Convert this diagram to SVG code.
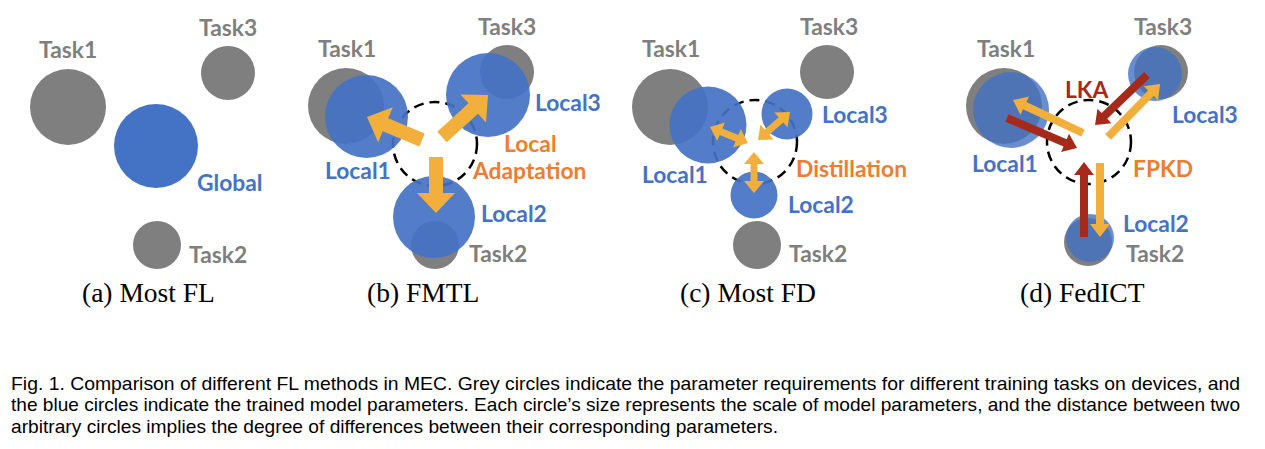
<svg xmlns="http://www.w3.org/2000/svg" width="1265" height="449" viewBox="0 0 1265 449">
<style>
.grey{fill:#7f7f7f}
.blue{fill:#4472c4;opacity:0.92}
.blued{fill:#4472c4;opacity:0.8}
.dash{fill:none;stroke:#000;stroke-width:2.5;stroke-dasharray:10 6}
.lbl{font-family:Lato,"Open Sans",sans-serif;font-weight:700;font-size:22.8px}
.tg{fill:#7f7f7f}
.tb{fill:#4472c4}
.to{fill:#ed7d31}
.tr{fill:#a52a1a}
.cap{font-family:"Liberation Serif","Times New Roman",serif;font-size:27.5px;fill:#000}
.fig{font-family:"Liberation Sans",Arial,sans-serif;font-size:18.5px;fill:#000}
.ya{fill:#f2af3b}
.ra{fill:#a52a1a}
</style>
<rect width="1265" height="449" fill="#fff"/>

<!-- Panel a -->
<g id="a-task1"><circle class="grey" cx="68" cy="107" r="38"/><text class="lbl tg" x="39" y="58">Task1</text></g>
<g id="a-task3"><circle class="grey" cx="228" cy="73" r="27"/><text class="lbl tg" x="199" y="36">Task3</text></g>
<g id="a-task2"><circle class="grey" cx="157" cy="245" r="24"/><text class="lbl tg" x="189" y="263">Task2</text></g>
<g id="a-global"><circle fill="#4472c4" cx="156" cy="146" r="42"/><text class="lbl tb" x="197" y="191">Global</text></g>
<text class="cap" x="82" y="302">(a) Most FL</text>

<!-- Panel b -->
<g id="b-task1"><circle class="grey" cx="346" cy="106" r="38"/><text class="lbl tg" x="318" y="57">Task1</text></g>
<g id="b-task3"><circle class="grey" cx="507" cy="72" r="27"/><text class="lbl tg" x="478" y="35">Task3</text></g>
<g id="b-task2"><circle class="grey" cx="435" cy="245" r="24"/><text class="lbl tg" x="469" y="262">Task2</text></g>
<g id="b-center"><circle class="dash" cx="435" cy="144" r="42"/><text class="lbl to" x="504" y="152">Local</text><text class="lbl to" x="473" y="179">Adaptation</text></g>
<g id="b-local1"><circle class="blue" cx="366.5" cy="116.5" r="41.5"/><text class="lbl tb" x="325" y="179">Local1</text></g>
<g id="b-local3"><circle class="blue" cx="488" cy="95" r="42"/><text class="lbl tb" x="535" y="111">Local3</text></g>
<g id="b-local2"><circle class="blue" cx="434" cy="217" r="41"/><text class="lbl tb" x="481" y="222">Local2</text></g>
<text class="cap" x="367" y="302">(b) FMTL</text>

<!-- Panel c -->
<g id="c-task1"><circle class="grey" cx="670" cy="107" r="38"/><text class="lbl tg" x="642" y="57">Task1</text></g>
<g id="c-task3"><circle class="grey" cx="827" cy="72" r="27"/><text class="lbl tg" x="800" y="35">Task3</text></g>
<g id="c-task2"><circle class="grey" cx="757" cy="245" r="24"/><text class="lbl tg" x="789" y="262">Task2</text></g>
<g id="c-center"><circle class="dash" cx="755" cy="142" r="42"/><text class="lbl to" x="796" y="177">Distillation</text></g>
<g id="c-local1"><circle class="blue" cx="708" cy="125" r="38.5"/><text class="lbl tb" x="642" y="183">Local1</text></g>
<g id="c-local3"><circle class="blue" cx="787" cy="114" r="25.5"/><text class="lbl tb" x="822" y="123">Local3</text></g>
<g id="c-local2"><circle class="blue" cx="754" cy="195" r="23.5"/><text class="lbl tb" x="788" y="213">Local2</text></g>
<text class="cap" x="680" y="302">(c) Most FD</text>

<!-- Panel d -->
<g id="d-task1"><circle class="grey" cx="1004" cy="106" r="38"/><text class="lbl tg" x="977" y="57">Task1</text></g>
<g id="d-task3"><circle class="grey" cx="1161" cy="72" r="27"/><text class="lbl tg" x="1134" y="35">Task3</text></g>
<g id="d-task2"><circle class="grey" cx="1088" cy="242" r="24"/><text class="lbl tg" x="1126" y="262">Task2</text></g>
<g id="d-center"><circle class="dash" cx="1089" cy="142" r="42"/><text class="lbl tr" x="1065" y="98">LKA</text><text class="lbl to" x="1133" y="177">FPKD</text></g>
<g id="d-local1"><circle class="blued" cx="1011" cy="110" r="38"/><text class="lbl tb" x="972" y="172">Local1</text></g>
<g id="d-local3"><circle class="blued" cx="1155" cy="74" r="27"/><text class="lbl tb" x="1172" y="123">Local3</text></g>
<g id="d-local2"><circle class="blued" cx="1090" cy="238" r="24"/><text class="lbl tb" x="1123" y="232">Local2</text></g>
<text class="cap" x="1020" y="302">(d) FedICT</text>

<!-- Connectors -->
<g id="connectors">
  <path class="ya" transform="translate(422,140) rotate(-157.3)" d="M0,-7 L39.6,-7 L39.6,-19 L59.6,0 L39.6,19 L39.6,7 L0,7 Z"/>
  <path class="ya" transform="translate(442,137) rotate(-42.4)" d="M0,-7 L42.3,-7 L42.3,-19 L62.3,0 L42.3,19 L42.3,7 L0,7 Z"/>
  <path class="ya" transform="translate(436,157) rotate(90)" d="M0,-7 L36,-7 L36,-19 L56,0 L36,19 L36,7 L0,7 Z"/>
  <path class="ya" transform="translate(710,127) rotate(22.8)" d="M0,0 L12,-10 L12,-3.5 L29.2,-3.5 L29.2,-10 L41.2,0 L29.2,10 L29.2,3.5 L12,3.5 L12,10 Z"/>
  <path class="ya" transform="translate(758,140) rotate(-41.2)" d="M0,0 L12,-10 L12,-3.5 L30.5,-3.5 L30.5,-10 L42.5,0 L30.5,10 L30.5,3.5 L12,3.5 L12,10 Z"/>
  <path class="ya" transform="translate(754,152) rotate(90)" d="M0,0 L12,-10 L12,-3.5 L29,-3.5 L29,-10 L41,0 L29,10 L29,3.5 L12,3.5 L12,10 Z"/>
  <path class="ya" transform="translate(1083,133) rotate(-154.8)" d="M0,-4 L64.4,-4 L64.4,-10 L77.4,0 L64.4,10 L64.4,4 L0,4 Z"/>
  <path class="ra" transform="translate(1007,118) rotate(23.2)" d="M0,-4 L63.2,-4 L63.2,-10 L76.2,0 L63.2,10 L63.2,4 L0,4 Z"/>
  <path class="ra" transform="translate(1147,75) rotate(136.1)" d="M0,-4 L59.1,-4 L59.1,-10 L72.1,0 L59.1,10 L59.1,4 L0,4 Z"/>
  <path class="ya" transform="translate(1108,137) rotate(-45.5)" d="M0,-4 L61.3,-4 L61.3,-10 L74.3,0 L61.3,10 L61.3,4 L0,4 Z"/>
  <path class="ra" transform="translate(1084,237) rotate(-90)" d="M0,-4 L62,-4 L62,-10 L75,0 L62,10 L62,4 L0,4 Z"/>
  <path class="ya" transform="translate(1100,163) rotate(90)" d="M0,-4 L61,-4 L61,-10 L74,0 L61,10 L61,4 L0,4 Z"/>
</g>

<!-- Figure caption -->
<text class="fig" x="11" y="390" textLength="1229" lengthAdjust="spacingAndGlyphs">Fig. 1. Comparison of different FL methods in MEC. Grey circles indicate the parameter requirements for different training tasks on devices, and</text>
<text class="fig" x="11" y="411" textLength="1229" lengthAdjust="spacingAndGlyphs">the blue circles indicate the trained model parameters. Each circle’s size represents the scale of model parameters, and the distance between two</text>
<text class="fig" x="11" y="433" textLength="767" lengthAdjust="spacingAndGlyphs">arbitrary circles implies the degree of differences between their corresponding parameters.</text>
</svg>
